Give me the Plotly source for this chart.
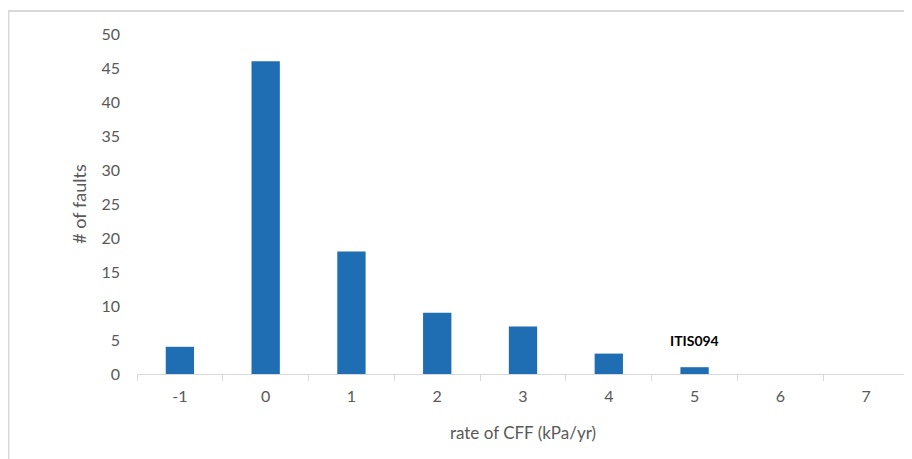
import plotly.graph_objects as go

categories = ["-1", "0", "1", "2", "3", "4", "5", "6", "7"]
faults = [4, 46, 18, 9, 7, 3, 1, 0, 0]
y_ticks = [0, 5, 10, 15, 20, 25, 30, 35, 40, 45, 50]
label_cat = "5"
label_y = 5
label_text = "ITIS094"

FONT = "Lato"
fig = go.Figure(go.Bar(x=categories, y=faults, width=0.33, marker_color="#1f6db2",
                       marker_line_width=0))

fig.update_layout(
    width=904, height=451,
    margin=dict(l=129, r=3, t=26, b=85),
    paper_bgcolor="white", plot_bgcolor="white",
    font=dict(family=FONT, size=16, color="#595959"),
    showlegend=False,
    xaxis=dict(type="category", range=[-0.5, 8.5], showline=True, linecolor="#d9d9d9",
               linewidth=1, ticks="outside", tickson="boundaries", ticklen=6,
               tickcolor="#d9d9d9", showgrid=False, ticklabelstandoff=8,
               title=dict(text="rate of CFF (kPa/yr)", font=dict(size=17), standoff=22)),
    yaxis=dict(range=[0, 50], tickvals=y_ticks, showline=False, showgrid=False,
               zeroline=False, ticks="", ticklabelstandoff=16,
               title=dict(text="# of faults", font=dict(size=18), standoff=10)),
    shapes=[dict(type="rect", xref="paper", yref="paper", x0=-0.1665, x1=1.2,
                 y0=-0.5, y1=1.068, line=dict(color="#d9d9d9", width=2),
                 fillcolor="rgba(0,0,0,0)", layer="below")],
    annotations=[dict(x=categories.index(label_cat), y=label_y, xref="x", yref="y",
                      text="<b>" + label_text + "</b>",
                      showarrow=False, font=dict(family=FONT, size=14, color="#000000"))],
)

fig.write_html("out.html")
